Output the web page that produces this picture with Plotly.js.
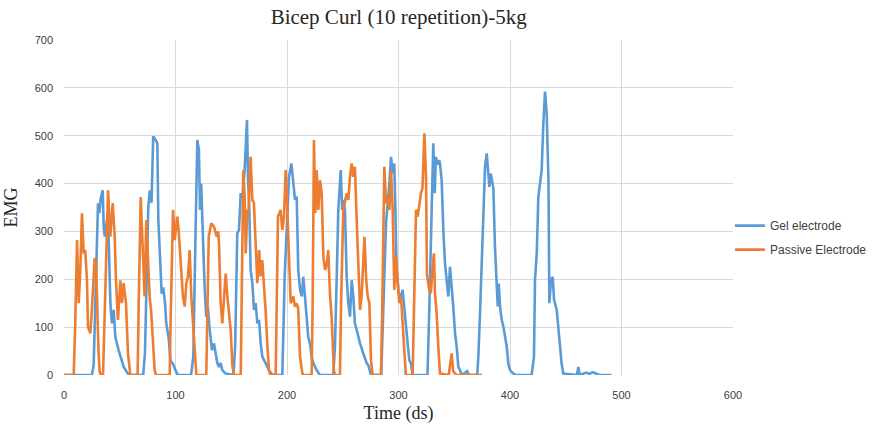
<!DOCTYPE html>
<html>
<head>
<meta charset="utf-8">
<script src="https://cdn.plot.ly/plotly-3.0.1.min.js"></script>
<style>html,body{margin:0;padding:0;background:#fff;}</style>
</head>
<body>
<div id="chart" style="width:882px;height:427px;"></div>
<script>
const chartTitle = "Bicep Curl (10 repetition)-5kg";
const xTitle = "Time (ds)";
const yTitle = "EMG";
const seriesNames = ["Gel electrode", "Passive Electrode"];
const xTicks = [0, 100, 200, 300, 400, 500, 600];
const yTicks = [0, 100, 200, 300, 400, 500, 600, 700];

const gelTime = [0,25,26.6,28,30.5,31.7,33,34.7,35.6,36.6,38.6,40,41.6,43,44.6,46,49,53.5,56.5,58,
71,72.6,75.6,77,78.5,80,82.2,83.7,84.6,86,87.6,89,90.6,91.7,94,95.5,98,100,102,
114,116,117.8,119.6,121,122,123,124.7,126.2,127.6,129,130.7,132.7,134.5,136,137.5,139,140.5,142,145,
152,153.5,155.4,156.9,158.5,160,162,163.3,164.1,165,166.2,167.4,168.9,170.4,171.9,173.4,174.9,176.4,177.9,180.8,183.8,187,
195.8,197.9,200.3,201.8,203.9,205.2,207.2,208.7,210.1,211.7,213.2,214.6,216,217.6,219,220.6,222.1,223.6,226.6,229.6,
241.5,243,244.6,246,248.2,249.5,250.5,252,253.5,255,256.5,258,259.5,260.9,262.5,263.9,265.5,268.4,271.4,273,275.3,
284.5,285.8,287.3,288.8,291.8,293.3,294.8,296.2,297.2,298.3,300.1,302.2,303.7,305.2,306.7,308.2,309.7,311.2,312.7,
326,327.6,329.1,330,331.2,332.5,333.5,335,336.5,337.2,338.7,340.2,341.7,343.2,344.7,346.2,347.7,349.1,350.7,352.2,353.7,355.2,357,361.6,363,370.6,
371.6,373.1,374.6,376.1,377.6,379.1,380.6,381.5,382.7,384.2,385.1,386.5,388,389,389.9,391.1,392.6,394.1,395.6,397.1,398.5,400,403,405,
419.4,421.5,422.4,424,425.4,427,428.4,429.9,431.4,432.9,434.5,435.3,436.8,438.3,439.5,441.9,443.4,444.8,446.3,447.8,
460,461.3,462.5,466,469,471,474,477,480,491];
const gelEMG = [0,0,20,129,359,338,370,386,310,289,324,289,150,108,136,80,52,17,7,0,
0,45,352,386,360,499,491,484,324,240,170,183,150,108,75,30,22,10,0,
0,40,275,491,470,345,400,275,178,122,143,94,52,66,45,25,17,25,10,3,
0,60,296,303,380,370,428,512,533,414,345,219,192,136,150,108,115,66,38,25,10,0,
0,205,345,414,442,414,366,373,219,178,164,205,157,122,80,66,38,25,10,0,
0,60,205,345,428,345,366,345,205,150,122,198,164,108,94,80,66,45,25,20,0,
0,101,205,317,400,456,421,442,345,219,171,164,178,136,101,66,31,24,0,
0,136,275,345,484,380,456,440,449,442,407,303,233,198,164,226,171,143,87,59,17,10,0,8,0,0,
38,129,233,338,435,463,414,393,421,400,390,268,198,143,191,143,115,101,80,59,24,10,3,0,
0,38,198,254,372,407,428,526,592,547,407,150,198,205,157,136,94,59,24,3,
0,17,0,3,5,2,6,3,0,0];

const passTime = [0,8.7,10,11.7,13.2,14.6,16.1,17.7,19,20.6,21.5,23.6,25,27.5,28.7,29.6,31,32,33,
35,36.5,39.5,41.5,43.7,45.5,46.6,48.4,50.5,52,53.5,55.6,57.4,59.5,
66,67,68.8,70.9,72.3,73.8,75.3,76.8,78.3,79.8,81.3,82.5,
94.8,95.5,97.8,99.3,101.6,102.8,104.7,106.7,108.3,109.7,111.2,112.7,114.2,115.7,117.2,118.7,
127.6,128.5,129.8,132.1,134.5,137,138.3,139,140.5,142,143.5,145,146.5,148,149.5,151,152.5,
158.5,159.5,160.8,162,163,164.4,165.5,167.4,168.9,170.3,172,173.4,175,176.4,177.8,179.3,180.8,182.3,183.8,185,
189.8,190.8,191.9,194.3,195.8,197.3,198.8,200.3,201.8,203.3,205.7,207,208.5,210,211.7,213.2,214,
222.1,223,224.2,225.4,226.6,228.1,229.6,231.1,232.6,234.1,235.6,237,238.5,240,241,242,243,
247.5,248.5,250.5,253.5,255,256.5,258,259.4,260.9,262.5,264,265.5,266.9,268.4,269.5,271,272.4,273.9,275.3,276.8,
284.3,285.5,287.3,288.8,290.3,291.8,293.3,294.8,296.2,297.8,299.3,300.7,302.2,303.7,305.2,306.6,
312.7,314,315.7,317.2,318.7,320.2,321.5,323.2,324.7,325.5,327.6,329,330.6,331.8,332.7,334.2,335.7,337.2,
345,346.5,347.7,349,350.5,352,375];
const passEMG = [0,0,100,282,150,219,338,254,261,198,101,87,136,244,240,150,45,7,0,
0,150,386,289,359,289,198,115,198,150,192,150,45,0,
0,150,372,247,164,324,254,164,129,66,10,0,
0,100,345,282,331,303,240,164,143,192,206,261,164,108,52,0,
0,120,289,317,310,289,300,275,150,108,164,212,164,129,94,20,0,
0,150,428,373,254,345,340,456,366,360,254,192,261,206,240,192,136,66,10,0,
0,150,331,345,303,330,428,345,261,150,164,143,150,140,38,10,0,
0,150,491,338,428,345,407,380,247,220,230,261,171,122,66,10,0,
0,150,345,380,366,414,442,414,435,324,205,136,164,250,289,200,164,150,31,0,
0,150,435,359,370,345,428,345,178,247,192,150,164,108,38,0,
0,150,345,331,359,380,390,505,414,210,178,171,226,254,171,129,59,3,
0,20,45,8,3,0,0];

const serifFont = "Liberation Serif, Times New Roman, serif";
const tickFont = {family: "Liberation Sans Narrow, Arial Narrow, Liberation Sans, sans-serif", size: 11, color: "#404040"};

const traces = [
  {x: gelTime, y: gelEMG, name: seriesNames[0], type: "scatter", mode: "lines", legendgroup: "g1",
   line: {color: "#5b9bd5", width: 2.6}},
  {x: passTime, y: passEMG, name: seriesNames[1], type: "scatter", mode: "lines", legendgroup: "g2",
   line: {color: "#ed7d31", width: 2.6}}
];

const layout = {
  width: 882, height: 427,
  font: {family: "Liberation Sans, Arial, sans-serif", color: "#404040"},
  margin: {l: 64, r: 149, t: 40, b: 52, autoexpand: false},
  paper_bgcolor: "#ffffff", plot_bgcolor: "#ffffff",
  title: {text: chartTitle, x: 0.452, xanchor: "center", y: 0.96, yanchor: "middle",
          font: {family: serifFont, size: 21, color: "#262626"}},
  xaxis: {range: [0, 600], tickvals: xTicks, ticktext: xTicks.map(String),
          showgrid: true, gridcolor: "#d9d9d9", gridwidth: 1, zeroline: false, showline: false,
          ticks: "", tickfont: tickFont, ticklabelstandoff: 12, automargin: false,
          title: {text: xTitle, font: {family: serifFont, size: 18, color: "#262626"}, standoff: 6}},
  yaxis: {range: [0, 700], tickvals: yTicks, ticktext: yTicks.map(String),
          showgrid: true, gridcolor: "#d9d9d9", gridwidth: 1, zeroline: false, showline: false,
          ticks: "", tickfont: tickFont, ticklabelstandoff: 10, automargin: false,
          title: {text: yTitle, font: {family: serifFont, size: 18, color: "#262626"}, standoff: 12}},
  showlegend: true,
  legend: {x: 0.9955, xanchor: "left", y: 0.41, yanchor: "middle", bgcolor: "rgba(0,0,0,0)",
           traceorder: "grouped", tracegroupgap: 5,
           font: {family: "Liberation Sans Narrow, Liberation Sans, Arial, sans-serif", size: 12, color: "#404040"},
           itemwidth: 30}
};

Plotly.newPlot("chart", traces, layout, {staticPlot: true, displayModeBar: false});
</script>
</body>
</html>
